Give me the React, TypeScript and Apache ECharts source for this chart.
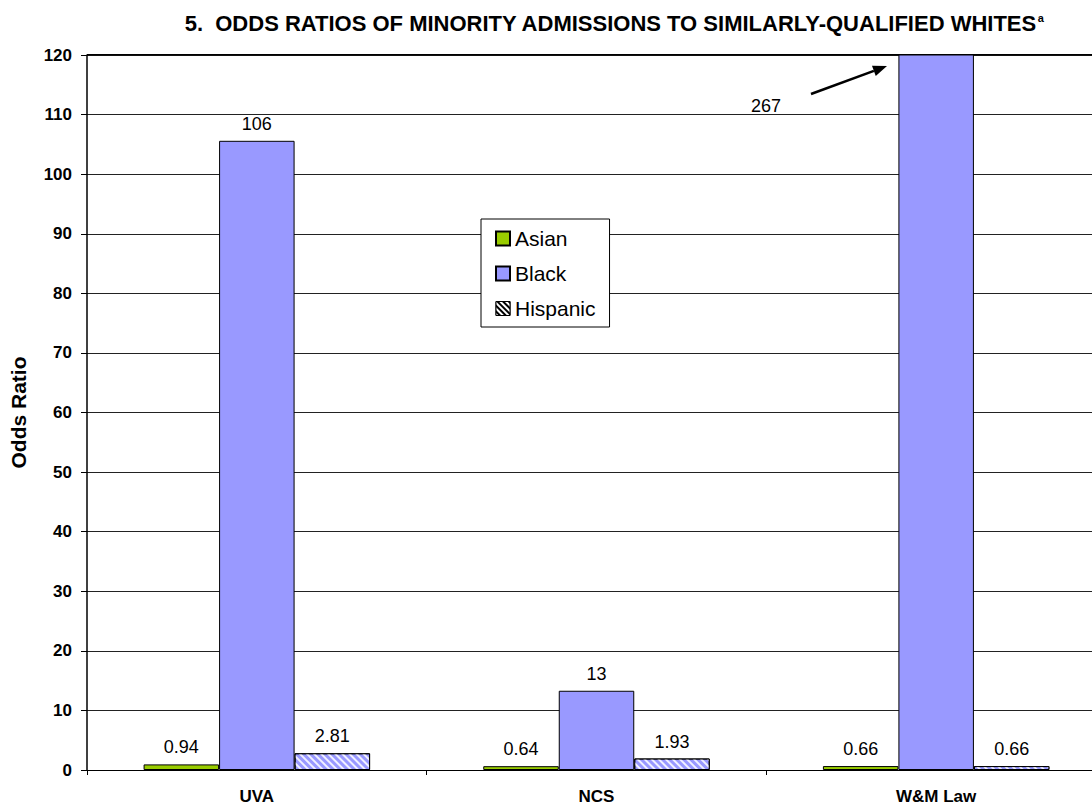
import React, { useEffect, useRef } from "react";
import * as echarts from "echarts";

const categories = ["UVA", "NCS", "W&M Law"];
const asian = [0.94, 0.64, 0.66];
const black = [105.6, 13.3, 267];
const hispanic = [2.81, 1.93, 0.66];
const blackLabels = ["106", "13", ""];
const offscaleLabel = "267";
const yTicks = { min: 0, max: 120, interval: 10 };

const FONT = "Arial, 'Liberation Sans', sans-serif";

export default function App() {
  const ref = useRef<HTMLDivElement>(null);
  useEffect(() => {
    if (!ref.current) return;
    const chart = echarts.init(ref.current, null, { renderer: "svg" });
    const hatch = {
      color: "rgba(255,255,255,0.85)",
      dashArrayX: [1, 0],
      dashArrayY: [2, 3],
      rotation: Math.PI / 4,
      symbolSize: 1,
    };
    const labelBase = {
      show: true,
      position: "top" as const,
      distance: 8,
      color: "#000",
      fontSize: 18,
      fontFamily: FONT,
    };
    const tip = [887, 66];
    const dir = [0.938, -0.346];
    const base = [tip[0] - 14 * dir[0], tip[1] - 14 * dir[1]];
    const perp = [0.346, 0.938];
    chart.setOption({
      animation: false,
      backgroundColor: "#fff",
      title: {
        text: "5.  ODDS RATIOS OF MINORITY ADMISSIONS TO SIMILARLY-QUALIFIED WHITES{sup|a}",
        left: 609,
        textAlign: "center",
        top: 7,
        textStyle: {
          fontSize: 22,
          fontWeight: "bold",
          fontFamily: FONT,
          color: "#000",
          rich: {
            sup: { fontSize: 11, fontWeight: "bold", fontFamily: FONT, verticalAlign: "top", padding: [0, 0, 12, 1] },
          },
        },
      },
      legend: {
        orient: "vertical",
        left: 481,
        top: 219,
        padding: [9, 14, 8, 14],
        itemGap: 14,
        itemWidth: 14,
        itemHeight: 14,
        borderColor: "#000",
        borderWidth: 1,
        backgroundColor: "#fff",
        textStyle: { fontSize: 21, color: "#000", fontFamily: FONT },
        data: [
          { name: "Asian", icon: "rect" },
          { name: "Black", icon: "rect" },
          {
            name: "Hispanic",
            icon: "rect",
            itemStyle: {
              color: "#000",
              borderColor: "#000",
              borderWidth: 1,
              decal: { color: "#fff", dashArrayX: [1, 0], dashArrayY: [2, 2], rotation: Math.PI / 4, symbolSize: 1 },
            },
          },
        ],
      },
      grid: { left: 87, right: 4, top: 55, bottom: 37, containLabel: false },
      xAxis: {
        type: "category",
        data: categories,
        axisLine: { lineStyle: { color: "#000", width: 1 } },
        axisTick: { show: true, length: 5, lineStyle: { color: "#000" } },
        axisLabel: { fontSize: 17, fontWeight: "bold", color: "#000", fontFamily: FONT, margin: 18 },
      },
      yAxis: {
        type: "value",
        min: yTicks.min,
        max: yTicks.max,
        interval: yTicks.interval,
        name: "Odds Ratio",
        nameLocation: "middle",
        nameGap: 58,
        nameTextStyle: { fontSize: 21, fontWeight: "bold", color: "#000", fontFamily: FONT },
        axisLine: { show: true, lineStyle: { color: "#000", width: 1.5 } },
        axisTick: { show: true, length: 6, lineStyle: { color: "#000" } },
        axisLabel: { fontSize: 17, fontWeight: "bold", color: "#000", fontFamily: FONT, margin: 15 },
        splitLine: { show: true, lineStyle: { color: "#222", width: 1 } },
      },
      series: [
        {
          name: "Asian",
          type: "bar",
          data: asian,
          barWidth: 75.5,
          barGap: "0%",
          itemStyle: { color: "#99CC00", borderColor: "#000", borderWidth: 1 },
          label: { ...labelBase, formatter: (p: any) => p.value.toFixed(2) },
        },
        {
          name: "Black",
          type: "bar",
          data: black,
          barWidth: 75.5,
          barGap: "0%",
          itemStyle: { color: "#9999FF", borderColor: "#000", borderWidth: 1 },
          label: { ...labelBase, formatter: (p: any) => blackLabels[p.dataIndex] },
        },
        {
          name: "Hispanic",
          type: "bar",
          data: hispanic,
          barWidth: 75.5,
          barGap: "0%",
          itemStyle: { color: "#9999FF", borderColor: "#000", borderWidth: 1, decal: hatch },
          label: { ...labelBase, formatter: (p: any) => p.value.toFixed(2) },
        },
      ],
      graphic: [
        {
          type: "rect",
          shape: { x: 87, y: 54, width: 1025, height: 1.5 },
          style: { fill: "#000" },
          z: 1,
        },
        {
          type: "text",
          x: 766,
          y: 106,
          style: { text: offscaleLabel, fontSize: 18, fontFamily: FONT, fill: "#000", align: "center", verticalAlign: "middle" },
          z: 10,
        },
        {
          type: "line",
          shape: { x1: 811, y1: 94, x2: base[0], y2: base[1] },
          style: { stroke: "#000", lineWidth: 2.5 },
          z: 10,
        },
        {
          type: "polygon",
          shape: {
            points: [
              tip,
              [base[0] + 5.5 * perp[0], base[1] + 5.5 * perp[1]],
              [base[0] - 5.5 * perp[0], base[1] - 5.5 * perp[1]],
            ],
          },
          style: { fill: "#000" },
          z: 10,
        },
      ],
    });
    return () => chart.dispose();
  }, []);
  return (
    <div style={{ position: "fixed", left: 0, top: 0, width: 1092, height: 807, overflow: "hidden", background: "#fff" }}>
      <div ref={ref} style={{ width: 1110, height: 807 }} />
    </div>
  );
}
